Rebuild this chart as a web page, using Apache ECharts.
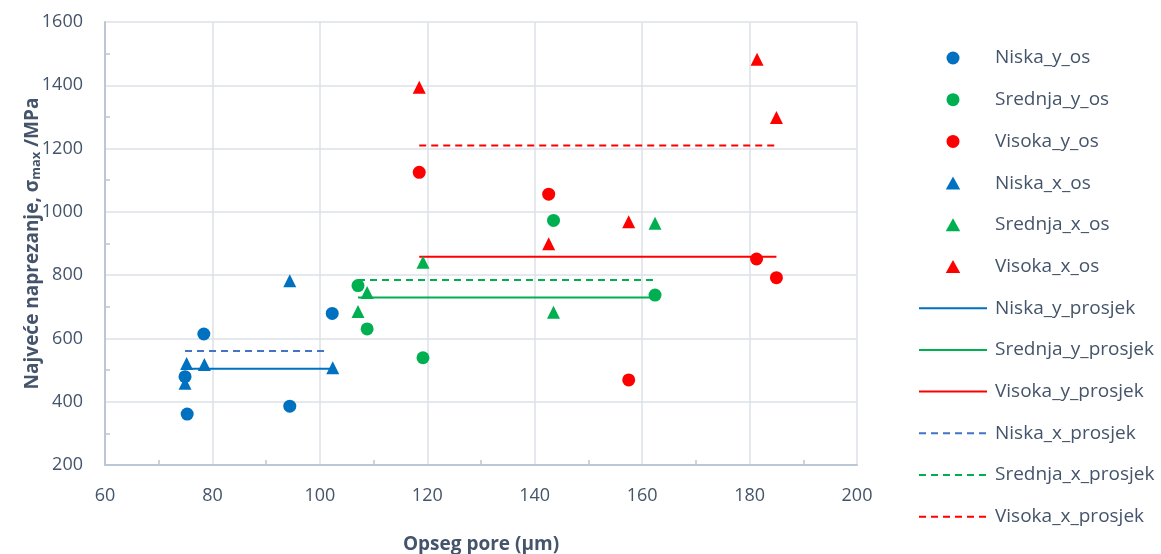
<!DOCTYPE html>
<html>
<head>
<meta charset="utf-8">
<script src="https://cdn.jsdelivr.net/npm/echarts@6/dist/echarts.min.js"></script>
<style>
html,body{margin:0;padding:0;background:#fff;}
#chart{width:1161px;height:554px;}
</style>
</head>
<body>
<div id="chart"></div>
<script>
// Data
var niskaY_x = [75.3, 74.9, 78.4, 94.4, 102.3];
var niskaY_y = [361, 479, 614, 386, 679];
var srednjaY_x = [107.1, 108.8, 119.2, 143.5, 162.4];
var srednjaY_y = [767, 630, 539, 973, 737];
var visokaY_x = [118.5, 142.6, 157.5, 181.3, 185.0];
var visokaY_y = [1125, 1056, 469, 851, 792];

var niskaX_x = [94.4, 75.2, 78.5, 102.4, 74.9];
var niskaX_y = [782, 521, 518, 507, 458];
var srednjaX_x = [107.1, 108.8, 119.2, 143.5, 162.4];
var srednjaX_y = [685, 745, 841, 683, 964];
var visokaX_x = [118.5, 142.6, 157.5, 181.4, 185.0];
var visokaX_y = [1394, 899, 969, 1482, 1298];

// Average lines: [xStart, xEnd, value]
var niskaY_prosjek = [74.9, 102.4, 504];
var srednjaY_prosjek = [107.1, 162.4, 729];
var visokaY_prosjek = [118.5, 185.0, 858];
var niskaX_prosjek = [74.9, 101.5, 560];
var srednjaX_prosjek = [107.1, 162.4, 785];
var visokaX_prosjek = [118.5, 185.0, 1210];

var xTicks = {min: 60, max: 200, interval: 20};
var yTicks = {min: 200, max: 1600, interval: 200};

var BLUE = '#0070c0', GREEN = '#00b050', RED = '#ff0000', BLUE_D = '#4472c4';
var TXT = '#44546a';
var TRI = 'path://M5,0 L10,9 L0,9 Z';

function pts(xs, ys) { return xs.map(function (x, i) { return [x, ys[i]]; }); }
function seg(a) { return [[a[0], a[2]], [a[1], a[2]]]; }

function scatter(name, xs, ys, sym, color) {
  return {
    name: name, type: 'scatter', symbol: sym, symbolSize: 13,
    itemStyle: {color: color, opacity: 1}, data: pts(xs, ys), z: 3
  };
}
function line(name, a, color, dashed) {
  return {
    name: name, type: 'line', data: seg(a), symbol: 'circle', showSymbol: false, symbolSize: 0,
    lineStyle: {color: color, width: 2, type: dashed ? [7, 5] : 'solid'},
    itemStyle: {color: 'rgba(0,0,0,0)', borderWidth: 0, opacity: 0}, z: 2, animation: false
  };
}

var chart = echarts.init(document.getElementById('chart'), null, {renderer: 'canvas'});
chart.setOption({
  animation: false,
  textStyle: {fontFamily: 'Open Sans'},
  grid: {left: 105, right: 304, top: 22, bottom: 89, containLabel: false, outerBoundsMode: 'none'},
  legend: {
    orient: 'vertical', left: 913, top: 43,
    itemWidth: 68, itemHeight: 13, itemGap: 21.7, symbolKeepAspect: true,
    textStyle: {color: TXT, fontSize: 19, fontFamily: 'Open Sans', lineHeight: 20, padding: [0, 0, 0, 3]},
    data: [
      {name: 'Niska_y_os'}, {name: 'Srednja_y_os'}, {name: 'Visoka_y_os'},
      {name: 'Niska_x_os', icon: TRI}, {name: 'Srednja_x_os', icon: TRI}, {name: 'Visoka_x_os', icon: TRI},
      {name: 'Niska_y_prosjek'}, {name: 'Srednja_y_prosjek'}, {name: 'Visoka_y_prosjek'},
      {name: 'Niska_x_prosjek'}, {name: 'Srednja_x_prosjek'}, {name: 'Visoka_x_prosjek'}
    ]
  },
  xAxis: {
    type: 'value', min: xTicks.min, max: xTicks.max, interval: xTicks.interval,
    name: 'Opseg pore (µm)', nameLocation: 'middle', nameGap: 70, nameMoveOverlap: false,
    nameTextStyle: {color: TXT, fontSize: 19, fontWeight: 'bold', fontFamily: 'Open Sans'},
    axisLine: {show: true, lineStyle: {color: '#bcc6d4', width: 2}},
    axisTick: {show: false, inside: true, length: 5},
    minorTick: {show: true, splitNumber: 2, length: 5, lineStyle: {color: '#bcc6d4', width: 1.5}},
    axisLabel: {color: TXT, fontSize: 18, margin: 22, fontFamily: 'Open Sans'},
    splitLine: {show: true, lineStyle: {color: '#dde2e9', width: 1.5}}
  },
  yAxis: {
    type: 'value', min: yTicks.min, max: yTicks.max, interval: yTicks.interval,
    name: 'Najveće naprezanje, σ{sub|max} /MPa', nameLocation: 'middle', nameGap: 62, nameRotate: 90, nameMoveOverlap: false,
    nameTextStyle: {
      color: TXT, fontSize: 19, fontWeight: 'bold', fontFamily: 'Open Sans',
      rich: {sub: {color: TXT, fontSize: 13, fontWeight: 'bold', fontFamily: 'Open Sans', verticalAlign: 'bottom', padding: [8, 0, 0, 0]}}
    },
    axisLine: {show: true, lineStyle: {color: '#bcc6d4', width: 2}},
    axisTick: {show: false, inside: true, length: 5},
    minorTick: {show: true, splitNumber: 2, length: 5, lineStyle: {color: '#bcc6d4', width: 1.5}},
    axisLabel: {color: TXT, fontSize: 18, margin: 22, fontFamily: 'Open Sans', formatter: function (v) { return String(v); }},
    splitLine: {show: true, lineStyle: {color: '#dde2e9', width: 1.5}}
  },
  series: [
    scatter('Niska_y_os', niskaY_x, niskaY_y, 'circle', BLUE),
    scatter('Srednja_y_os', srednjaY_x, srednjaY_y, 'circle', GREEN),
    scatter('Visoka_y_os', visokaY_x, visokaY_y, 'circle', RED),
    scatter('Niska_x_os', niskaX_x, niskaX_y, 'triangle', BLUE),
    scatter('Srednja_x_os', srednjaX_x, srednjaX_y, 'triangle', GREEN),
    scatter('Visoka_x_os', visokaX_x, visokaX_y, 'triangle', RED),
    line('Niska_y_prosjek', niskaY_prosjek, BLUE, false),
    line('Srednja_y_prosjek', srednjaY_prosjek, GREEN, false),
    line('Visoka_y_prosjek', visokaY_prosjek, RED, false),
    line('Niska_x_prosjek', niskaX_prosjek, BLUE_D, true),
    line('Srednja_x_prosjek', srednjaX_prosjek, GREEN, true),
    line('Visoka_x_prosjek', visokaX_prosjek, RED, true)
  ]
});
</script>
</body>
</html>
